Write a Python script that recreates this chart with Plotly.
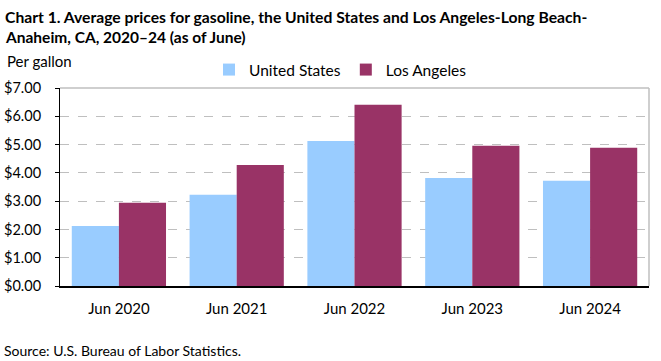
import plotly.graph_objects as go

categories = ["Jun 2020", "Jun 2021", "Jun 2022", "Jun 2023", "Jun 2024"]
us_values = [2.12, 3.23, 5.13, 3.82, 3.72]
la_values = [2.94, 4.28, 6.41, 4.96, 4.89]
y_ticks = [0, 1, 2, 3, 4, 5, 6, 7]
y_tick_labels = ["$0.00", "$1.00", "$2.00", "$3.00", "$4.00", "$5.00", "$6.00", "$7.00"]
title_lines = ["Chart 1. Average prices for gasoline, the United States and Los Angeles-Long Beach-",
               "Anaheim, CA, 2020\u201324 (as of June)"]

FONT = "Lato"
H = 361
PT, PB = 88, 286  # plot top / bottom in pixels


def py(p):
    return (PB - p) / (PB - PT)


def px(p):
    return (p - 60) / (649 - 60)


fig = go.Figure()
fig.add_trace(go.Bar(name="United States", x=categories, y=us_values, marker_color="#99CCFF",
                     marker_line_width=0))
fig.add_trace(go.Bar(name="Los Angeles", x=categories, y=la_values, marker_color="#993366",
                     marker_line_width=0))

annotations = [
    dict(text="<b>" + title_lines[0] + "</b>", xref="paper", yref="paper", x=px(3), y=py(17),
         xanchor="left", yanchor="middle", showarrow=False, font=dict(size=15.7)),
    dict(text="<b>" + title_lines[1] + "</b>", xref="paper", yref="paper", x=px(3), y=py(37),
         xanchor="left", yanchor="middle", showarrow=False, font=dict(size=15.5)),
    dict(text="Per gallon", xref="paper", yref="paper", x=px(5), y=py(61),
         xanchor="left", yanchor="middle", showarrow=False, font=dict(size=15)),
    dict(text="Source: U.S. Bureau of Labor Statistics.", xref="paper", yref="paper",
         x=px(2), y=py(350), xanchor="left", yanchor="middle",
         showarrow=False, font=dict(size=14)),
]

fig.update_layout(
    width=661, height=H,
    margin=dict(l=60, r=12, t=PT, b=H - PB, autoexpand=False),
    paper_bgcolor="white", plot_bgcolor="white",
    barmode="group", bargap=0.2, bargroupgap=0,
    font=dict(family=FONT, color="#000000", size=14),
    legend=dict(orientation="h", xref="container", yref="container",
                x=209 / 661, xanchor="left", y=1 - 70 / H, yanchor="middle",
                font=dict(size=15.5), itemwidth=30, bgcolor="rgba(0,0,0,0)"),
    xaxis=dict(showline=True, linecolor="#000000", linewidth=2, ticks="",
               tickfont=dict(size=15), showgrid=False, ticklabelstandoff=8),
    yaxis=dict(range=[0, 7], tickvals=y_ticks, ticktext=y_tick_labels,
               showline=True, linecolor="#000000", linewidth=1, ticks="outside",
               ticklen=4, tickcolor="#000000", tickfont=dict(size=14.5),
               ticklabelstandoff=11,
               showgrid=True, gridcolor="#BFBFBF", griddash="dash", gridwidth=1,
               zeroline=False),
    annotations=annotations,
    shapes=[
        dict(type="line", xref="paper", yref="paper", x0=0, x1=1, y0=1, y1=1,
             line=dict(color="#BFBFBF", width=1.5)),
        dict(type="line", xref="paper", yref="paper", x0=1, x1=1, y0=0, y1=1,
             line=dict(color="#BFBFBF", width=1.5)),
    ],
)

fig.write_html("out.html", config={"displayModeBar": False},
               post_script="document.body.style.margin='0';")
